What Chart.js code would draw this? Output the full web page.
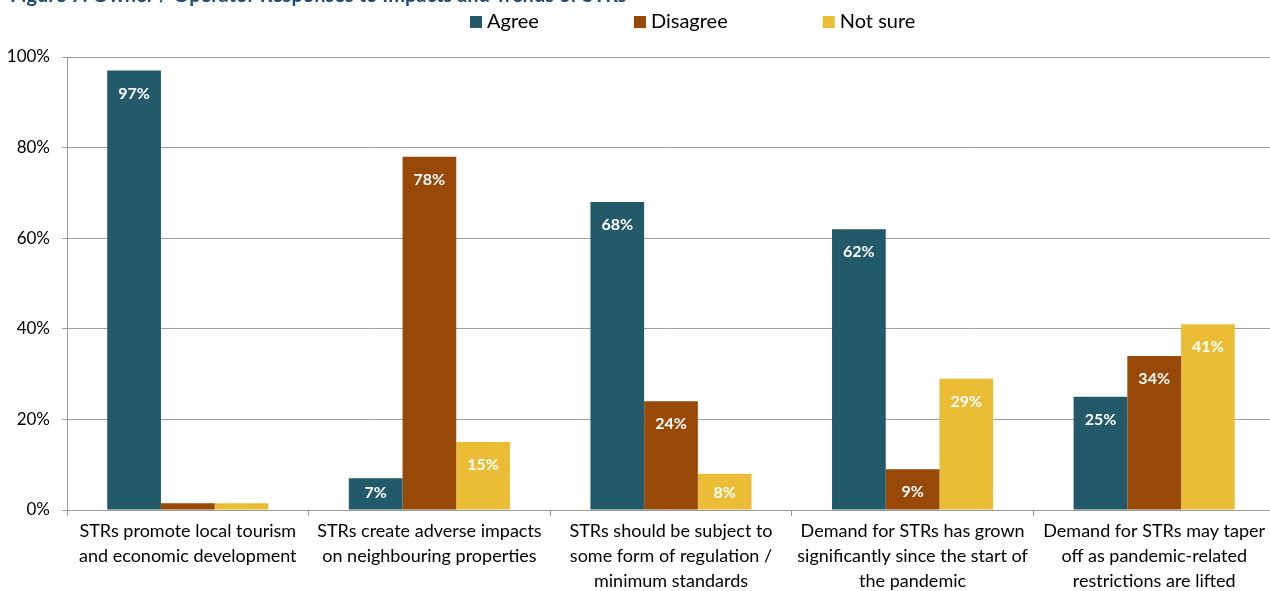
<!DOCTYPE html>
<html>
<head>
  <title>Owner / Operator Responses</title>
  <script src="https://cdn.jsdelivr.net/npm/chart.js"></script>
  <style>
    html, body { margin: 0; padding: 0; background: #fff; overflow: hidden; }
    #wrap { width: 1280px; height: 591px; position: relative; }
  </style>
</head>
<body>
  <div id="wrap"><canvas id="myChart"></canvas></div>

  <script>
    const categories = [
      ['STRs promote local tourism', 'and economic development'],
      ['STRs create adverse impacts', 'on neighbouring properties'],
      ['STRs should be subject to', 'some form of regulation /', 'minimum standards'],
      ['Demand for STRs has grown', 'significantly since the start of', 'the pandemic'],
      ['Demand for STRs may taper', 'off as pandemic-related', 'restrictions are lifted']
    ];
    const agree = [97, 7, 68, 62, 25];
    const disagree = [1.5, 78, 24, 9, 34];
    const notSure = [1.5, 15, 8, 29, 41];
    const yTicks = [0, 20, 40, 60, 80, 100];

    const FONT = 'Lato, "Open Sans", sans-serif';

    // figure heading, partly above the canvas edge
    const headingPlugin = {
      id: 'heading',
      afterDraw(chart) {
        const ctx = chart.ctx;
        ctx.save();
        ctx.fillStyle = '#1f4e79';
        ctx.font = 'bold 20px ' + FONT;
        ctx.textBaseline = 'alphabetic';
        ctx.fillText('Figure 7: Owner / Operator Responses to Impacts and Trends of STRs', 10, 2);
        ctx.restore();
      }
    };

    // legend row: square + label, spaced wide
    const legendPlugin = {
      id: 'wideLegend',
      afterDraw(chart) {
        const ctx = chart.ctx;
        ctx.save();
        ctx.font = '20px ' + FONT;
        ctx.textBaseline = 'middle';
        let x = 470;
        const y = 22;
        chart.data.datasets.forEach(ds => {
          ctx.fillStyle = ds.backgroundColor;
          ctx.fillRect(x, y - 6, 12, 12);
          ctx.fillStyle = '#000';
          ctx.fillText(ds.label, x + 17, y);
          x += 17 + ctx.measureText(ds.label).width + 95;
        });
        ctx.restore();
      }
    };

    // white value labels inside the top of each bar
    const valuePlugin = {
      id: 'values',
      afterDatasetsDraw(chart) {
        const ctx = chart.ctx;
        ctx.save();
        ctx.font = 'bold 16px ' + FONT;
        ctx.fillStyle = '#fff';
        ctx.textAlign = 'center';
        ctx.textBaseline = 'middle';
        chart.data.datasets.forEach((ds, i) => {
          chart.getDatasetMeta(i).data.forEach((bar, j) => {
            const v = ds.data[j];
            if (v < 5) return;
            const y = Math.min(bar.y + 23, bar.base - 17);
            ctx.fillText(Math.round(v) + '%', bar.x, y);
          });
        });
        ctx.restore();
      }
    };

    const ctx = document.getElementById('myChart').getContext('2d');
    new Chart(ctx, {
      type: 'bar',
      data: {
        labels: categories,
        datasets: [
          { label: 'Agree', data: agree, backgroundColor: '#235a69' },
          { label: 'Disagree', data: disagree, backgroundColor: '#984807' },
          { label: 'Not sure', data: notSure, backgroundColor: '#ebbd37' }
        ]
      },
      options: {
        responsive: true,
        maintainAspectRatio: false,
        animation: false,
        layout: { padding: { top: 57, left: 0, right: 5, bottom: 0 } },
        datasets: { bar: { categoryPercentage: 0.667, barPercentage: 1.0 } },
        plugins: {
          legend: { display: false },
          tooltip: { enabled: false }
        },
        scales: {
          x: {
            grid: { offset: true, drawOnChartArea: false, drawTicks: true, tickLength: 6, color: '#999' },
            border: { color: '#999' },
            ticks: { color: '#000', font: { family: FONT, size: 18, lineHeight: 1.39 }, padding: 3, maxRotation: 0 },
            afterFit(scale) { scale.height = 81; }
          },
          y: {
            min: 0, max: 100,
            afterBuildTicks(scale) { scale.ticks = yTicks.map(v => ({ value: v })); },
            grid: { color: '#a0a0a0', tickLength: 5 },
            border: { color: '#999' },
            ticks: { color: '#000', font: { family: FONT, size: 17 }, padding: 12, callback: v => v + '%' },
            afterFit(scale) { scale.width = 67; }
          }
        }
      },
      plugins: [headingPlugin, legendPlugin, valuePlugin]
    });
  </script>
</body>
</html>
